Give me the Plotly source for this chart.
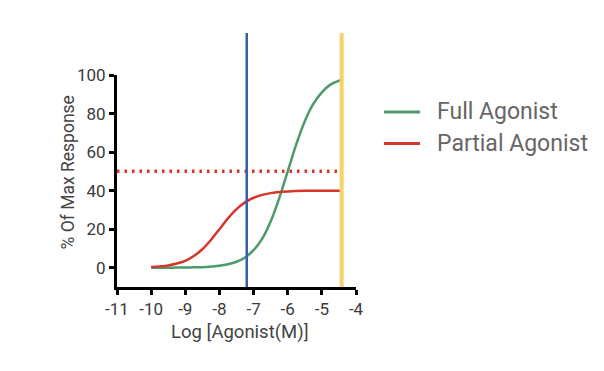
import plotly.graph_objects as go

# Data
x_full = [-10, -9.75, -9.5, -9.25, -9, -8.75, -8.5, -8.25, -8, -7.75, -7.5, -7.25,
          -7, -6.75, -6.5, -6.25, -6, -5.75, -5.5, -5.25, -5, -4.75, -4.5, -4.42]
y_full = [0.0, 0.0, 0.0, 0.1, 0.1, 0.2, 0.3, 0.6, 1.0, 1.8, 3.1, 5.3,
          9.1, 15, 24, 36, 50, 64, 76, 85, 91, 95, 97, 97.4]

x_partial = [-10, -9.75, -9.5, -9.25, -9, -8.75, -8.5, -8.25, -8, -7.75, -7.5, -7.25,
             -7, -6.75, -6.5, -6.25, -6, -5.5, -5, -4.42]
y_partial = [0.4, 0.7, 1.2, 2.2, 3.6, 6.1, 9.6, 14.4, 20, 25.6, 30.4, 33.9,
             36.3, 37.8, 38.7, 39.3, 39.6, 39.9, 40, 40]

half_max_x = [-11, -4.45]
half_max_y = [50, 50]

blue_line_x = -7.2
yellow_line_x = -4.42

x_ticks = [-11, -10, -9, -8, -7, -6, -5, -4]
y_ticks = [0, 20, 40, 60, 80, 100]

series_names = ["Full Agonist", "Partial Agonist"]

GREEN = "#4c9a6a"
RED = "#d7362c"
BLUE = "#3a5da8"
YELLOW = "#f7d26b"
FONT = "Roboto"

fig = go.Figure()

fig.add_trace(go.Scatter(
    x=half_max_x, y=half_max_y, mode="lines", showlegend=False,
    line=dict(color=RED, width=3.5, dash="2.5px,5px"), hoverinfo="skip"))

fig.add_trace(go.Scatter(
    x=x_full, y=y_full, mode="lines", name=series_names[0], showlegend=False,
    line=dict(color=GREEN, width=2.5, shape="spline")))
fig.add_trace(go.Scatter(
    x=x_partial, y=y_partial, mode="lines", name=series_names[1], showlegend=False,
    line=dict(color=RED, width=2.5, shape="spline")))

fig.add_shape(type="line", xref="x", yref="paper", x0=blue_line_x, x1=blue_line_x,
              y0=0, y1=1.198, line=dict(color=BLUE, width=2.5), layer="above")
fig.add_shape(type="line", xref="x", yref="paper", x0=yellow_line_x, x1=yellow_line_x,
              y0=0, y1=1.198, line=dict(color=YELLOW, width=4), layer="above")

# Legend (drawn manually to match spacing)
for name, color, ly in [(series_names[0], GREEN, 0.8255), (series_names[1], RED, 0.677)]:
    fig.add_shape(type="line", xref="paper", yref="paper", x0=1.117, x1=1.2675,
                  y0=ly, y1=ly, line=dict(color=color, width=3))
    fig.add_annotation(text=name, xref="paper", yref="paper", x=1.330, y=ly,
                       xanchor="left", yanchor="middle", showarrow=False,
                       font=dict(family=FONT, size=23, color="#666"))

fig.add_annotation(text="% Of Max Response", xref="paper", yref="paper",
                   x=-0.2035, y=0.542, textangle=-90, showarrow=False,
                   xanchor="center", yanchor="middle",
                   font=dict(family=FONT, size=17.5, color="#444"))
fig.add_annotation(text="Log [Agonist(M)]", xref="paper", yref="paper",
                   x=0.515, y=-0.212, showarrow=False,
                   xanchor="center", yanchor="middle",
                   font=dict(family=FONT, size=18.5, color="#444"))

fig.update_layout(
    width=604, height=371,
    margin=dict(l=109, r=256, t=67, b=92),
    paper_bgcolor="white", plot_bgcolor="white",
    font=dict(family=FONT, color="#444"),
    showlegend=False,
    xaxis=dict(range=[-11, -4], tickvals=x_ticks, ticktext=[str(v) for v in x_ticks],
               showgrid=False, zeroline=False, showline=True, linecolor="black",
               linewidth=3, ticks="outside", ticklen=5, tickwidth=3, tickcolor="black",
               tickfont=dict(family=FONT, size=17, color="#3a3a3a")),
    yaxis=dict(range=[-10, 100], tickvals=y_ticks,
               showgrid=False, zeroline=False, showline=True, linecolor="black",
               linewidth=3, ticks="outside", ticklen=5, tickwidth=3, tickcolor="black",
               tickfont=dict(family=FONT, size=17, color="#3a3a3a")),
)

fig.write_html("out.html")
